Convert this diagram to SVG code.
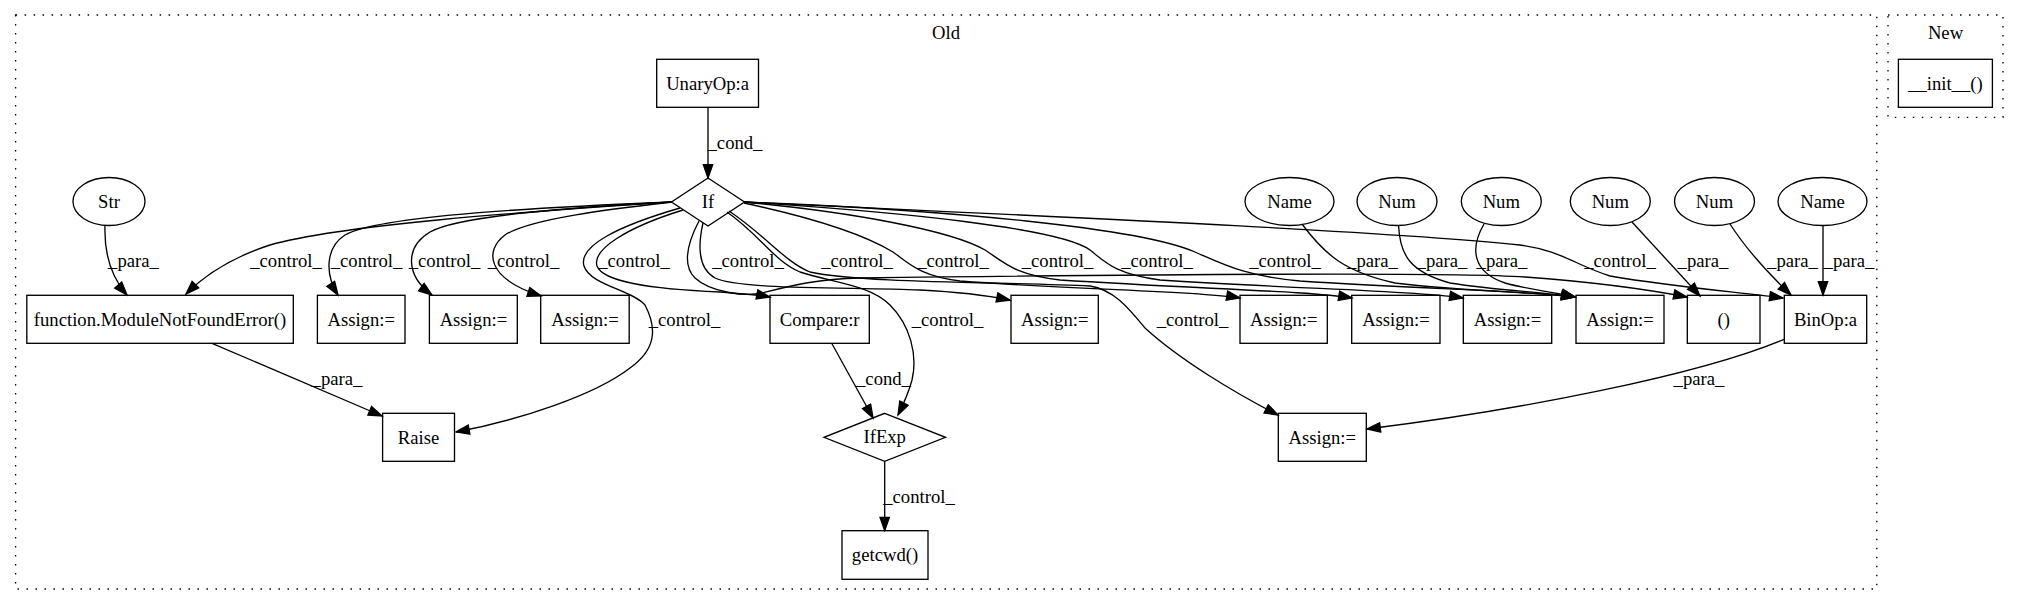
<svg xmlns="http://www.w3.org/2000/svg" width="2019" height="606" viewBox="0 0 2019 606">
<style>
text { font-family: "Liberation Serif", "Times New Roman", serif; font-size: 18.67px; text-anchor: middle; fill: #000; }
.cl { fill: none; stroke: #000; stroke-width: 1.33; stroke-dasharray: 1.5 7.5; }
.nd { fill: none; stroke: #000; stroke-width: 1.33; }
.e { fill: none; stroke: #000; stroke-width: 1.33; marker-end: url(#arr); }
</style>
<defs>
<marker id="arr" markerUnits="userSpaceOnUse" markerWidth="16" markerHeight="12" refX="13.3" refY="4.67" orient="auto" viewBox="-1 -1 16 12">
<path d="M0,0 L13.3,4.67 L0,9.33 Z" fill="#000" stroke="#000" stroke-width="1.33"/>
</marker>
</defs>
<rect x="0" y="0" width="2019" height="606" fill="#fff"/>
<g id="clusters">
<g id="cluster_old">
<rect class="cl" x="15.6" y="15" width="1861.2" height="574"/>
<text x="946" y="39">Old</text>
</g>
<g id="cluster_new">
<rect class="cl" x="1888" y="15" width="115" height="102.3"/>
<text x="1945.5" y="39">New</text>
</g>
</g>
<g id="edges">
<path class="e" d="M708,107.3 L708,178"/>
<text x="735" y="149">_cond_</text>
<path class="e" d="M105,225.5 C104,255 112,278 127,295"/>
<text x="133.5" y="267">_para_</text>
<path class="e" d="M212,343.3 L382,416"/>
<text x="337" y="385">_para_</text>
<path class="e" d="M672,202 C520,212 340,225 270,245 C230,258 205,275 186,294"/>
<text x="286" y="267">_control_</text>
<path class="e" d="M672,202 C550,207 380,215 345,235 C325,248 325,275 338,295"/>
<text x="366.5" y="267">_control_</text>
<path class="e" d="M672,202 C580,207 460,215 430,232 C405,247 405,275 432,295"/>
<text x="444.5" y="267">_control_</text>
<path class="e" d="M672,202 C620,208 530,218 505,235 C485,250 485,278 541,296"/>
<text x="523.5" y="267">_control_</text>
<path class="e" d="M680,208 C618,226 578,246 584,266 C590,285 632,290 645,305 C658,330 655,350 630,368 C595,395 520,420 456,432"/>
<text x="684.5" y="326">_control_</text>
<path class="e" d="M683,210 C625,228 592,250 597,266 C603,282 650,289 720,292 C745,294 760,295 770,297"/>
<text x="634" y="267">_control_</text>
<path class="e" d="M699,221 C688,242 682,265 695,278 C710,292 745,297 762,293 C790,286 815,279 860,278 C1100,275 1450,272 1525,277 C1580,281 1640,288 1687,297"/>
<text x="748" y="267">_control_</text>
<path class="e" d="M703,223 C698,245 697,268 715,278 C740,290 850,287 920,290 C960,292 990,296 1010,300"/>
<text x="857" y="267">_control_</text>
<path class="e" d="M727,212 C760,235 775,262 800,272 C835,283 870,285 890,305 C910,325 918,355 912,380 C908,395 903,405 898,415"/>
<text x="947.5" y="326">_control_</text>
<path class="e" d="M729,211 C765,235 785,262 810,272 C860,283 1000,282 1090,286 C1115,290 1130,310 1145,328 C1180,360 1235,393 1278,415"/>
<text x="1192.5" y="326">_control_</text>
<path class="e" d="M744,203 C800,215 860,232 893,252 C910,264 920,276 960,281 C1080,290 1200,291 1240,298"/>
<text x="953" y="267">_control_</text>
<path class="e" d="M744,202 C850,212 950,230 985,250 C1005,263 1015,275 1060,280 C1200,289 1310,291 1352,298"/>
<text x="1057.5" y="267">_control_</text>
<path class="e" d="M744,202 C900,212 1060,228 1090,250 C1105,262 1115,274 1160,280 C1300,289 1420,291 1463,298"/>
<text x="1157" y="267">_control_</text>
<path class="e" d="M744,202 C950,210 1140,228 1195,252 C1225,265 1245,276 1300,281 C1420,289 1530,291 1575,297"/>
<text x="1285" y="267">_control_</text>
<path class="e" d="M744,202 C950,212 1380,230 1520,245 C1560,250 1575,265 1610,276 C1680,288 1740,292 1783,298"/>
<text x="1620" y="267">_control_</text>
<path class="e" d="M1302,224 C1325,255 1345,272 1395,283 C1470,292 1540,292 1575,297"/>
<text x="1372.5" y="267">_para_</text>
<path class="e" d="M1398.6,226 C1400,255 1410,272 1450,283 C1500,291 1545,292 1575,297"/>
<text x="1442" y="267">_para_</text>
<path class="e" d="M1484,224 C1470,248 1472,272 1505,283 C1530,290 1555,292 1575,297"/>
<text x="1502" y="267">_para_</text>
<path class="e" d="M1632,222 L1700,296"/>
<text x="1703" y="267">_para_</text>
<path class="e" d="M1730,224 C1748,252 1770,275 1791,295"/>
<text x="1792.5" y="267">_para_</text>
<path class="e" d="M1823,226 L1823,295"/>
<text x="1849" y="267">_para_</text>
<path class="e" d="M1784,339.3 C1700,375 1520,410 1367,429"/>
<text x="1699" y="385">_para_</text>
<path class="e" d="M831.7,343.3 L873,418"/>
<text x="883.5" y="385">_cond_</text>
<path class="e" d="M884.7,461.3 L884.7,530.7"/>
<text x="919" y="503">_control_</text>
</g>
<g id="n_unary"><rect class="nd" x="656.7" y="59.3" width="101.8" height="48"/><text x="707.6" y="89.5">UnaryOp:a</text></g>
<g id="n_if"><polygon class="nd" points="708,178 744.5,202 708,226 671.5,202"/><text x="708" y="207.5">If</text></g>
<g id="n_str"><ellipse class="nd" cx="109" cy="201.5" rx="36" ry="24"/><text x="109" y="207.5">Str</text></g>
<g id="n_func"><rect class="nd" x="26.8" y="295.3" width="266.5" height="48"/><text x="160" y="325.5">function.ModuleNotFoundError()</text></g>
<g id="n_assign1"><rect class="nd" x="317.4" y="295.3" width="87.6" height="48"/><text x="361.2" y="325.5">Assign:=</text></g>
<g id="n_assign2"><rect class="nd" x="429.4" y="295.3" width="87.9" height="48"/><text x="473.4" y="325.5">Assign:=</text></g>
<g id="n_assign3"><rect class="nd" x="540.7" y="295.3" width="88.5" height="48"/><text x="585" y="325.5">Assign:=</text></g>
<g id="n_compare"><rect class="nd" x="770" y="295.3" width="99.3" height="48"/><text x="819.7" y="325.5">Compare:r</text></g>
<g id="n_assign4"><rect class="nd" x="1011" y="295.3" width="87.3" height="48"/><text x="1054.7" y="325.5">Assign:=</text></g>
<g id="n_assign5"><rect class="nd" x="1240" y="295.3" width="87.3" height="48"/><text x="1283.7" y="325.5">Assign:=</text></g>
<g id="n_assign6"><rect class="nd" x="1351.7" y="295.3" width="88.3" height="48"/><text x="1395.9" y="325.5">Assign:=</text></g>
<g id="n_assign7"><rect class="nd" x="1463.3" y="295.3" width="88.4" height="48"/><text x="1507.5" y="325.5">Assign:=</text></g>
<g id="n_assign8"><rect class="nd" x="1576" y="295.3" width="88" height="48"/><text x="1620" y="325.5">Assign:=</text></g>
<g id="n_tuple"><rect class="nd" x="1687.3" y="295.3" width="72.7" height="48"/><text x="1723.7" y="325.5">()</text></g>
<g id="n_binop"><rect class="nd" x="1784.3" y="295.3" width="82.4" height="48"/><text x="1825.5" y="325.5">BinOp:a</text></g>
<g id="n_raise"><rect class="nd" x="382.6" y="413.3" width="71.9" height="48"/><text x="418.5" y="443.5">Raise</text></g>
<g id="n_ifexp"><polygon class="nd" points="884.7,413.3 945.5,437.3 884.7,461.3 824,437.3"/><text x="884.7" y="443">IfExp</text></g>
<g id="n_getcwd"><rect class="nd" x="842" y="530.7" width="86" height="48.6"/><text x="885" y="561">getcwd()</text></g>
<g id="n_assign9"><rect class="nd" x="1278.3" y="413.3" width="88" height="48"/><text x="1322.3" y="443.5">Assign:=</text></g>
<g id="n_name1"><ellipse class="nd" cx="1289.5" cy="201.5" rx="44.5" ry="24"/><text x="1289.5" y="207.5">Name</text></g>
<g id="n_num1"><ellipse class="nd" cx="1397" cy="201.5" rx="40" ry="24"/><text x="1397" y="207.5">Num</text></g>
<g id="n_num2"><ellipse class="nd" cx="1501.3" cy="201.5" rx="40" ry="24"/><text x="1501.3" y="207.5">Num</text></g>
<g id="n_num3"><ellipse class="nd" cx="1610.3" cy="201.5" rx="40" ry="24"/><text x="1610.3" y="207.5">Num</text></g>
<g id="n_num4"><ellipse class="nd" cx="1714.5" cy="201.5" rx="40" ry="24"/><text x="1714.5" y="207.5">Num</text></g>
<g id="n_name2"><ellipse class="nd" cx="1822.5" cy="201.5" rx="44.5" ry="24"/><text x="1822.5" y="207.5">Name</text></g>
<g id="n_init"><rect class="nd" x="1898.4" y="59.3" width="94" height="48"/><text x="1945.4" y="89.5">__init__()</text></g>
</svg>
